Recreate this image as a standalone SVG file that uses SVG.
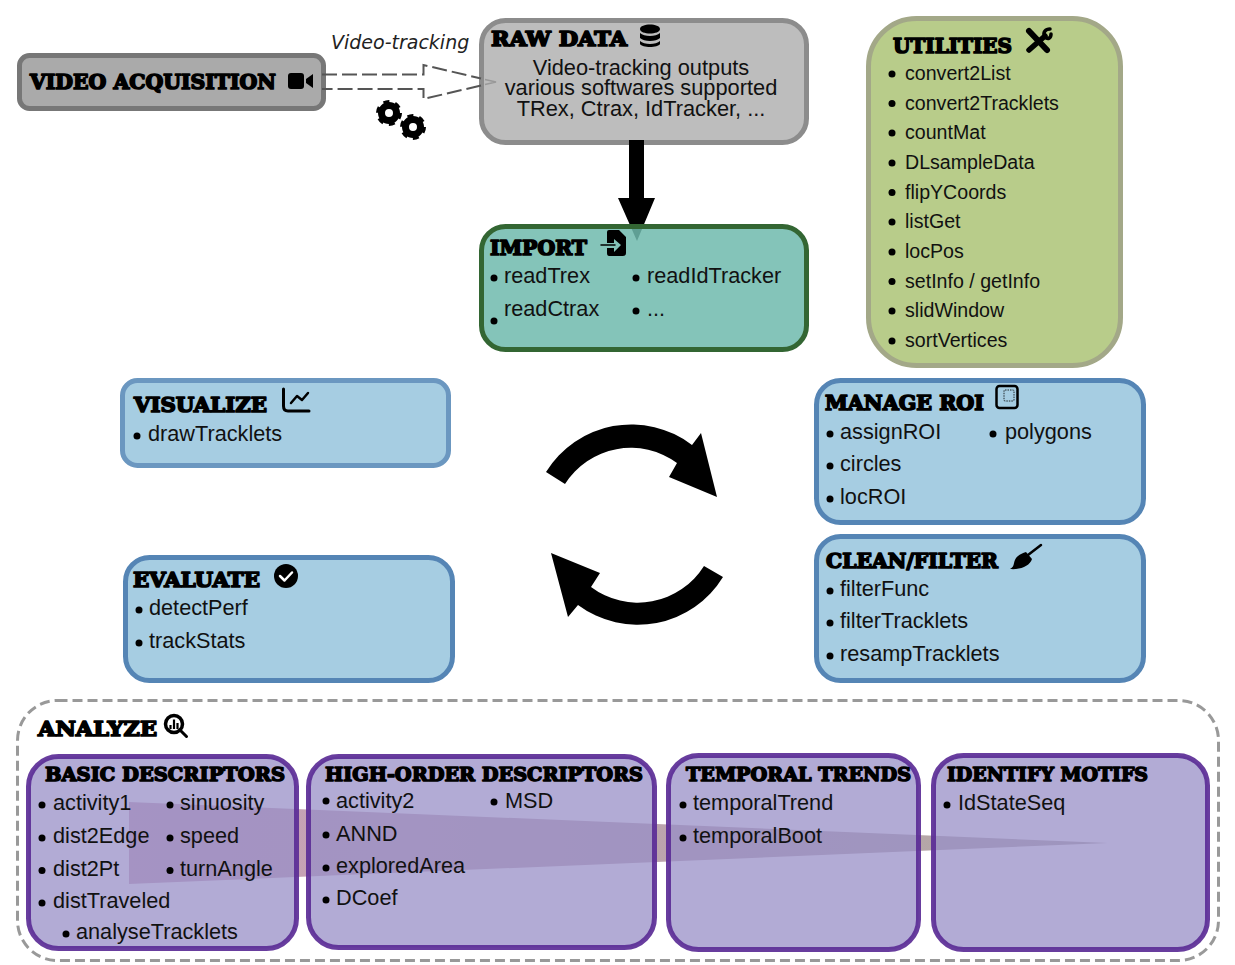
<svg xmlns="http://www.w3.org/2000/svg" width="1235" height="965" viewBox="0 0 1235 965">
<style>
text{font-family:"Liberation Sans",Arial,sans-serif;font-size:21.700px;fill:#111}
.u{font-size:19.600px}
.r{font-size:21.800px}
.t{font-family:"DejaVu Serif",serif;font-weight:700;font-size:21px;fill:#000;stroke:#000;stroke-width:1.700px;stroke-linejoin:round}
.t2{font-size:18.500px;stroke-width:1.500px}
.b{fill:#000}
.blue{fill:#a6cde2;stroke:#5585b5;stroke-width:5}
.pur{fill:#988fc7;fill-opacity:.75;stroke:#5b2c96;stroke-opacity:.92;stroke-width:5}
.ic{fill:#000}
.il{fill:none;stroke:#000;stroke-linecap:round;stroke-linejoin:round}
</style>
<defs>
<linearGradient id="wg" gradientUnits="userSpaceOnUse" x1="129" y1="0" x2="1108" y2="0">
<stop offset="0" stop-color="#c9a0b8"/><stop offset="1" stop-color="#b0a8a4"/>
</linearGradient>
</defs>
<g id="video-acquisition">
<rect x="19.500" y="55.500" width="304" height="53" rx="10" fill="#aaa" stroke="#777" stroke-width="5"/>
<text class="t" x="30" y="89" textLength="246" lengthAdjust="spacingAndGlyphs">VIDEO ACQUISITION</text>
<rect x="288" y="73" width="16" height="16" rx="3" class="ic"/><path class="ic" d="M306 79L313 74V88L306 83Z"/>
</g>
<g id="raw-data">
<rect x="481.500" y="20.500" width="325" height="122" rx="24" fill="#bdbdbd" stroke="#8c8c8c" stroke-width="5"/>
<text class="t" x="491" y="46" textLength="136" lengthAdjust="spacingAndGlyphs">RAW DATA</text>
<path class="ic" d="M640 29c0-6 20-6 20 0s-20 6-20 0ZM640 33c4 4 16 4 20 0v5c-4 4-16 4-20 0ZM640 41c4 4 16 4 20 0v3c-2 4-18 4-20 0Z"/>
<text class="r" x="641" y="75" text-anchor="middle">Video-tracking outputs</text>
<text class="r" x="641" y="95" text-anchor="middle">various softwares supported</text>
<text class="r" x="641" y="116" text-anchor="middle">TRex, Ctrax, IdTracker, ...</text>
</g>
<g id="connectors">
<path id="wedge" d="M129 802L1108 843L129 884Z" fill="url(#wg)"/>
<path id="raw-import" d="M629 140H644V198H655L637 241L618 198H629Z" fill="#000"/>
<path id="video-raw" d="M322 74.500H423.500V65L481 78.500M481 85.500L423.500 99V89H322" fill="none" stroke="#555" stroke-width="2" stroke-dasharray="15 5"/>
<path id="video-raw-tip" d="M485 79.500L496 82L485 84.500" fill="none" stroke="#999" stroke-width="1.500"/>
<path id="cycle-top" d="M546 472A100 100 0 0 1 692 445L701 433L717 497L669 477L677 463A78 78 0 0 0 565 484Z" fill="#000"/>
<path id="cycle-bottom" d="M723 577A100 100 0 0 1 578 605L568 617L551 553L600 573L591 587A78 78 0 0 0 704 566Z" fill="#000"/>
</g>
<g id="video-tracking-label">
<text x="331" y="49" style="font-family:'DejaVu Sans',sans-serif;font-style:italic;font-size:19px;fill:#222">Video-tracking</text>
<g id="gears">
<circle cx="389" cy="113" r="7.500" fill="none" stroke="#000" stroke-width="7"/>
<circle cx="389" cy="113" r="10.500" fill="none" stroke="#000" stroke-width="5" stroke-dasharray="5.500 5.500"/>
<circle cx="413" cy="127" r="7.500" fill="none" stroke="#000" stroke-width="7"/>
<circle cx="413" cy="127" r="10.500" fill="none" stroke="#000" stroke-width="5" stroke-dasharray="5.500 5.500"/>
</g>
</g>
<g id="import">
<rect x="481.500" y="226.500" width="325" height="123" rx="24" fill="#6fbaad" fill-opacity=".855" stroke="#336633" stroke-width="5"/>
<text class="t" x="490" y="255" textLength="97" lengthAdjust="spacingAndGlyphs">IMPORT</text>
<path class="ic" d="M609 230H619L626 237V253Q626 256 623 256H609Q607 256 607 253V248H614V252L621 245L614 239V243H607V232Q607 230 609 230Z"/>
<path class="il" d="M601 245H615" stroke-width="1.500"/>
<circle class="b" cx="494" cy="278" r="3.500"/><text x="504" y="283">readTrex</text>
<circle class="b" cx="494" cy="321" r="3.500"/><text x="504" y="316">readCtrax</text>
<circle class="b" cx="636" cy="278" r="3.500"/><text x="647" y="283">readIdTracker</text>
<circle class="b" cx="636" cy="311" r="3.500"/><text x="647" y="316">...</text>
</g>
<g id="utilities">
<rect x="868.500" y="18.500" width="252" height="347" rx="48" fill="#b8cc8a" stroke="#a3a888" stroke-width="5"/>
<text class="t" x="893" y="53" textLength="119" lengthAdjust="spacingAndGlyphs">UTILITIES</text>
<path class="il" d="M1029 31L1047 50" stroke-width="6"/>
<path class="il" d="M1029 50L1045 36" stroke-width="5.500"/>
<path class="il" d="M1045 37C1042 32 1046 29 1050 29M1045 37C1048 40 1051 38 1051 34" stroke-width="3.500"/>
<circle class="b" cx="892" cy="74" r="3.500"/><text class="u" x="905" y="80">convert2List</text>
<circle class="b" cx="892" cy="103.500" r="3.500"/><text class="u" x="905" y="109.500">convert2Tracklets</text>
<circle class="b" cx="892" cy="133" r="3.500"/><text class="u" x="905" y="139">countMat</text>
<circle class="b" cx="892" cy="163" r="3.500"/><text class="u" x="905" y="169">DLsampleData</text>
<circle class="b" cx="892" cy="192.500" r="3.500"/><text class="u" x="905" y="198.500">flipYCoords</text>
<circle class="b" cx="892" cy="222" r="3.500"/><text class="u" x="905" y="228">listGet</text>
<circle class="b" cx="892" cy="252" r="3.500"/><text class="u" x="905" y="258">locPos</text>
<circle class="b" cx="892" cy="281.500" r="3.500"/><text class="u" x="905" y="287.500">setInfo / getInfo</text>
<circle class="b" cx="892" cy="311" r="3.500"/><text class="u" x="905" y="317">slidWindow</text>
<circle class="b" cx="892" cy="341" r="3.500"/><text class="u" x="905" y="347">sortVertices</text>
</g>
<g id="visualize">
<rect x="122.500" y="380.500" width="326" height="85" rx="15" fill="#a6cde2" stroke="#6b97c0" stroke-width="5"/>
<text class="t" x="134" y="412" textLength="133" lengthAdjust="spacingAndGlyphs">VISUALIZE</text>
<path class="il" d="M283.500 389V406Q283.500 411 288 411H309" stroke-width="3"/>
<path class="il" d="M291 403L297 396L302 400L308 393" stroke-width="2.500"/>
<circle class="b" cx="137" cy="436" r="3.500"/><text x="148" y="441">drawTracklets</text>
</g>
<g id="manage-roi">
<rect x="816.500" y="380.500" width="327" height="142" rx="24" class="blue"/>
<text class="t" x="825" y="410" textLength="159" lengthAdjust="spacingAndGlyphs">MANAGE ROI</text>
<rect x="996.500" y="386" width="21" height="22" rx="3" fill="none" stroke="#000" stroke-width="2.500"/>
<rect x="1004" y="390" width="10" height="11" rx="1" fill="none" stroke="#000" stroke-width=".8" stroke-dasharray="1.500 1"/>
<circle class="b" cx="830" cy="434" r="3.500"/><text x="840" y="439">assignROI</text>
<circle class="b" cx="993" cy="434" r="3.500"/><text x="1005" y="439">polygons</text>
<circle class="b" cx="830" cy="466" r="3.500"/><text x="840" y="471">circles</text>
<circle class="b" cx="830" cy="499" r="3.500"/><text x="840" y="504">locROI</text>
</g>
<g id="clean-filter">
<rect x="816.500" y="536.500" width="327" height="144" rx="24" class="blue"/>
<text class="t" x="826" y="568" textLength="172" lengthAdjust="spacingAndGlyphs">CLEAN/FILTER</text>
<path class="il" d="M1041 545L1028 555" stroke-width="2.500"/>
<path class="ic" d="M1026 552L1032 559C1030 566 1020 570 1010 569C1016 566 1012 561 1018 556C1020 554 1023 553 1026 552Z"/>
<circle class="b" cx="830" cy="591" r="3.500"/><text x="840" y="596">filterFunc</text>
<circle class="b" cx="830" cy="623" r="3.500"/><text x="840" y="628">filterTracklets</text>
<circle class="b" cx="830" cy="656" r="3.500"/><text x="840" y="661">resampTracklets</text>
</g>
<g id="evaluate">
<rect x="125.500" y="557.500" width="327" height="123" rx="24" class="blue"/>
<text class="t" x="133" y="587" textLength="127" lengthAdjust="spacingAndGlyphs">EVALUATE</text>
<circle class="b" cx="286" cy="576" r="12"/>
<path d="M280 576L284.500 580.500L292 572.500" fill="none" stroke="#fff" stroke-width="2.500" stroke-linecap="round" stroke-linejoin="round"/>
<circle class="b" cx="139" cy="610" r="3.500"/><text x="149" y="615">detectPerf</text>
<circle class="b" cx="139" cy="643" r="3.500"/><text x="149" y="648">trackStats</text>
</g>
<g id="analyze">
<rect x="17.500" y="700.500" width="1201" height="260" rx="40" fill="none" stroke="#999" stroke-width="3" stroke-dasharray="10 5"/>
<text class="t" x="38" y="736" textLength="119" lengthAdjust="spacingAndGlyphs">ANALYZE</text>
<circle cx="174" cy="724" r="8.500" fill="none" stroke="#000" stroke-width="3.500"/>
<path class="il" d="M180 730L186.500 736.500" stroke-width="3"/>
<path d="M170.500 729V725M174 729V719.500M177.500 729V723" stroke="#000" stroke-width="2.200"/>
</g>
<g id="basic-descriptors">
<rect x="28.500" y="756.500" width="268" height="192" rx="30" class="pur"/>
<text class="t t2" x="45" y="781" textLength="240" lengthAdjust="spacingAndGlyphs">BASIC DESCRIPTORS</text>
<circle class="b" cx="42" cy="805" r="3.500"/><text x="53" y="810">activity1</text>
<circle class="b" cx="42" cy="838" r="3.500"/><text x="53" y="843">dist2Edge</text>
<circle class="b" cx="42" cy="870.500" r="3.500"/><text x="53" y="875.500">dist2Pt</text>
<circle class="b" cx="42" cy="903" r="3.500"/><text x="53" y="908">distTraveled</text>
<circle class="b" cx="66" cy="934" r="3.500"/><text x="76" y="939">analyseTracklets</text>
<circle class="b" cx="170" cy="805" r="3.500"/><text x="180" y="810">sinuosity</text>
<circle class="b" cx="170" cy="838" r="3.500"/><text x="180" y="843">speed</text>
<circle class="b" cx="170" cy="870.500" r="3.500"/><text x="180" y="875.500">turnAngle</text>
</g>
<g id="high-order-descriptors">
<rect x="308.500" y="756.500" width="346" height="191" rx="30" class="pur"/>
<text class="t t2" x="325" y="781" textLength="318" lengthAdjust="spacingAndGlyphs">HIGH-ORDER DESCRIPTORS</text>
<circle class="b" cx="326" cy="801" r="3.500"/><text x="336" y="808">activity2</text>
<circle class="b" cx="326" cy="835" r="3.500"/><text x="336" y="841">ANND</text>
<circle class="b" cx="326" cy="868" r="3.500"/><text x="336" y="873">exploredArea</text>
<circle class="b" cx="326" cy="900" r="3.500"/><text x="336" y="905">DCoef</text>
<circle class="b" cx="494" cy="802" r="3.500"/><text x="505" y="808">MSD</text>
</g>
<g id="temporal-trends">
<rect x="668.500" y="755.500" width="250" height="194" rx="30" class="pur"/>
<text class="t t2" x="686" y="781" textLength="225" lengthAdjust="spacingAndGlyphs">TEMPORAL TRENDS</text>
<circle class="b" cx="683" cy="805" r="3.500"/><text x="693" y="810">temporalTrend</text>
<circle class="b" cx="683" cy="838" r="3.500"/><text x="693" y="843">temporalBoot</text>
</g>
<g id="identify-motifs">
<rect x="933.500" y="755.500" width="274" height="194" rx="30" class="pur"/>
<text class="t t2" x="947" y="781" textLength="201" lengthAdjust="spacingAndGlyphs">IDENTIFY MOTIFS</text>
<circle class="b" cx="947" cy="805" r="3.500"/><text x="958" y="810">IdStateSeq</text>
</g>
</svg>
